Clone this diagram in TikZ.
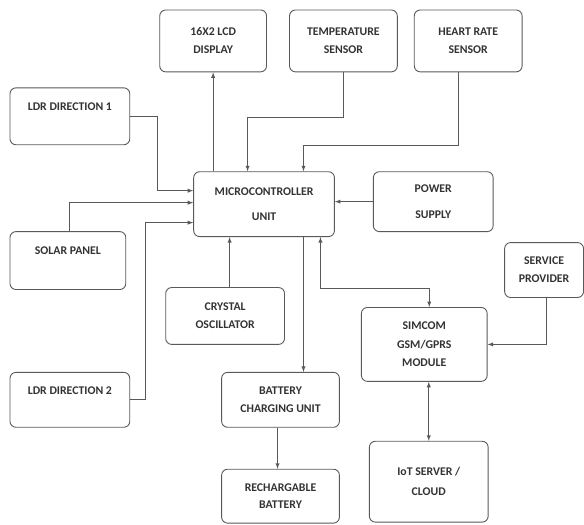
\documentclass[tikz,border=0pt]{standalone}
\usepackage{fontspec}
\setmainfont{Carlito}
\begin{document}
\begin{tikzpicture}[x=1pt,y=-1pt,>=latex]
\tikzset{every node/.style={font=\bfseries\fontsize{11.8}{14}\selectfont,text=black!80,align=center}}
\tikzset{block/.style={draw=black!65,line width=0.9pt,rounded corners=6pt,inner sep=0pt}}
\tikzset{topped/.style={text height=8.5pt,text depth=20pt}}
\tikzset{link/.style={draw=black!65,line width=0.9pt}}
\useasboundingbox (0,0) rectangle (585,525);
% top row
\node[block,minimum width=107,minimum height=62] (lcd) at (213.5,41) {16X2 LCD\\[4pt]DISPLAY};
\node[block,minimum width=108,minimum height=62] (temp) at (344,41) {TEMPERATURE\\[4pt]SENSOR};
\node[block,minimum width=108,minimum height=62] (heart) at (469,41) {HEART RATE\\[4pt]SENSOR};
% left column
\node[block,topped,minimum width=120,minimum height=57] (ldra) at (70,116.5) {LDR DIRECTION 1};
\node[block,topped,minimum width=116,minimum height=58] (solar) at (68,261) {SOLAR PANEL};
\node[block,topped,minimum width=120,minimum height=55] (ldrb) at (70,400.5) {LDR DIRECTION 2};
% middle
\node[block,minimum width=141,minimum height=65] (mcu) at (264.5,204.5) {MICROCONTROLLER\\[11pt]UNIT};
\node[block,minimum width=120,minimum height=60] (power) at (434,202) {POWER\\[11.5pt]SUPPLY};
\node[block,minimum width=119,minimum height=57] (crystal) at (225.5,316.5) {CRYSTAL\\[4pt]OSCILLATOR};
\node[block,minimum width=118,minimum height=55] (charge) at (281,400.5) {BATTERY\\[4pt]CHARGING UNIT};
\node[block,minimum width=118,minimum height=54] (battery) at (281,497) {RECHARGABLE\\[3.5pt]BATTERY};
% right
\node[block,minimum width=79,minimum height=55] (service) at (545,270.5) {SERVICE\\[4pt]PROVIDER};
\node[block,minimum width=126,minimum height=74] (gsm) at (425,345) {SIMCOM\\[4.5pt]GSM/GPRS\\[4.5pt]MODULE};
\node[block,minimum width=119,minimum height=81] (iot) at (429.5,482.5) {IoT SERVER /\\[6pt]CLOUD};
% connectors
\draw[link,->] (mcu.north -| lcd.south) -- (lcd.south);
\draw[link,->] (temp.south) -- ++(0,45) -| ([xshift=-16.5pt]mcu.north);
\draw[link,->] ([xshift=-10pt]heart.south) -- ++(0,73) -| ([xshift=39.5pt]mcu.north);
\draw[link,->] (ldra.east) -- ++(27,0) |- ([yshift=13.5pt]mcu.west);
\draw[link,->] ([xshift=2pt]solar.north) |- ([yshift=1.5pt]mcu.west);
\draw[link,->] (ldrb.east) -- ++(15,0) |- ([yshift=-18.5pt]mcu.west);
\draw[link,->] (power.west) -- (power.west -| mcu.east);
\draw[link,->] ([xshift=4.5pt]crystal.north) -- ([xshift=4.5pt]crystal.north |- mcu.south);
\draw[link,->] ([xshift=23pt]charge.north |- mcu.south) -- ([xshift=23pt]charge.north);
\draw[link,<->] ([xshift=56.5pt]mcu.south) -- ++(0,51) -| ([xshift=5pt]gsm.north);
\draw[link,->] ([xshift=2pt]service.south) |- (gsm.east);
\draw[link,<->] (iot.north |- gsm.south) -- (iot.north);
\draw[link,->] ([xshift=-3pt]charge.south) -- ([xshift=-3pt]battery.north);
\end{tikzpicture}
\end{document}
